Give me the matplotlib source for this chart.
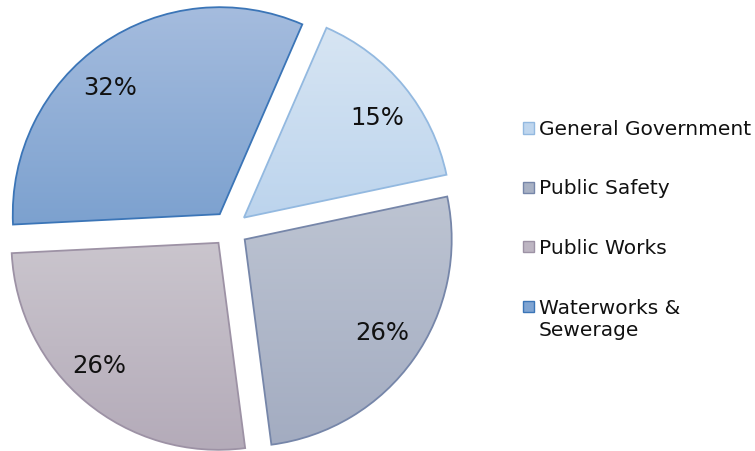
import matplotlib.pyplot as plt
import numpy as np
from matplotlib.colors import to_rgb
from matplotlib.patches import Rectangle

# data
labels = ['General Government', 'Public Safety', 'Public Works', 'Waterworks &\nSewerage']
shares = [15, 26, 26, 32]

# colours (gradient top -> bottom, outline, legend swatch)
top_colors = ['#d7e5f3', '#bdc4d2', '#cac5cd', '#a5bcde']
bottom_colors = ['#bcd4ed', '#a3acc1', '#b4abb9', '#7ca1cf']
edge_colors = ['#93b9e0', '#7686a9', '#9d92a5', '#3b75b7']
swatch_colors = ['#bfd6ee', '#a8b1c4', '#bdb5c2', '#7fa4d2']

W, H = 755, 451
R = 207.0            # pie radius in pixels
CX, CY = 230, 229    # pie centre in pixels (from top-left)
# where the percentage labels sit (pixels)
label_px = [(377, 118), (382, 333), (99, 366), (110, 88)]

fig = plt.figure(figsize=(W / 100, H / 100), dpi=100)
ax = fig.add_axes([0, 0, 460 / W, 1])

wedges, texts, autotexts = ax.pie(
    shares, startangle=66.5, counterclock=False, explode=[0.087] * 4,
    autopct='%1.0f%%', pctdistance=0.8,
    wedgeprops=dict(linewidth=1.3),
    textprops=dict(fontsize=17.5, color='#111111'))

# vertical gradient fill inside each slice
grad = np.linspace(0, 1, 256)[:, None, None]
for w, c_top, c_bot, ec in zip(wedges, top_colors, bottom_colors, edge_colors):
    w.set_facecolor('none')
    w.set_edgecolor(ec)
    ext = w.get_path().get_extents()
    img = (1 - grad) * np.array(to_rgb(c_top)) + grad * np.array(to_rgb(c_bot))
    im = ax.imshow(img, extent=(ext.x0, ext.x1, ext.y0, ext.y1), origin='upper',
                   interpolation='bilinear', zorder=0.5)
    im.set_clip_path(w)

for t, (px, py) in zip(autotexts, label_px):
    t.set_position(((px - CX) / R, (CY - py) / R))

ax.set_xlim(-CX / R, (460 - CX) / R)
ax.set_ylim(-(H - CY) / R, CY / R)
ax.set_aspect('auto')
ax.axis('off')

# legend on the right
for i, (name, fc, ec) in enumerate(zip(labels, swatch_colors, edge_colors)):
    cy = 128 + i * 59.5
    fig.add_artist(Rectangle((523 / W, 1 - (cy + 5.5) / H), 11 / W, 11 / H,
                             transform=fig.transFigure, facecolor=fc, edgecolor=ec, lw=1))
    fig.text(539 / W, 1 - (cy - 8) / H, name, va='top', ha='left',
             fontsize=14.5, color='#111111')

fig.savefig('out.png', dpi=100)
